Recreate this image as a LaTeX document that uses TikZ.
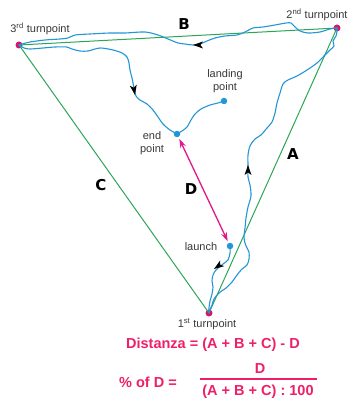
\documentclass[tikz,border=0pt]{standalone}
\usepackage{fontspec}
\setmainfont{Liberation Sans}
\newfontfamily\heavyfont{DejaVu Sans}
\usetikzlibrary{arrows.meta}
\definecolor{trackblue}{RGB}{35,150,215}
\definecolor{leggreen}{RGB}{45,165,85}
\definecolor{tpmag}{RGB}{215,20,115}
\definecolor{dmag}{RGB}{225,25,135}
\definecolor{formpink}{RGB}{240,30,105}
\definecolor{labgrey}{RGB}{55,55,55}
\newcommand\flyarrow[3]{\fill[black, shift={(#1,#2)}, rotate=#3] (0,0) -- (-10,3.5) -- (-7.5,0) -- (-10,-3.5) -- cycle;}
\begin{document}
\begin{tikzpicture}[x=1pt,y=-1pt,
  tp/.style={circle, fill=tpmag, inner sep=0pt, minimum size=7pt},
  bdot/.style={circle, fill=trackblue, inner sep=0pt, minimum size=6.5pt},
  leg/.style={draw=leggreen, line width=1pt},
  track/.style={draw=trackblue, line width=1.1pt, line join=round, line cap=round},
  lab/.style={font=\fontsize{11}{13}\selectfont, text=labgrey, inner sep=0pt, align=center},
  leglab/.style={font=\heavyfont\bfseries\fontsize{15}{15}\selectfont, text=black, inner sep=0pt},
  form/.style={font=\bfseries\fontsize{14.5}{16}\selectfont, text=formpink, inner sep=0pt}
]
\useasboundingbox (0,0) rectangle (347,403);

% turnpoints and points
\node[tp] (tp1) at (209,313) {};
\node[tp] (tp2) at (337,28) {};
\node[tp] (tp3) at (19,45) {};

% legs
\draw[leg] (tp1.center) -- (tp2.center) -- (tp3.center) -- cycle;

% track
\draw[track] plot[smooth, tension=0.5] coordinates {
 (230,246) (230,253) (228,260) (223,264) (216,270) (213,275) (212,281) (213,287) (212,294) (210,301) (209,308) (209,312)};
\draw[track] plot[smooth, tension=0.5] coordinates {
 (209,312) (212,305) (214,299) (219,293) (226,288) (232,282) (237,275) (242,269) (247,265) (249,259) (249,252) (246,246) (244,238) (245,228) (246,218) (248,207) (251,196) (250,185) (248,177) (248,165) (248,155) (250,146) (255,139) (261,135) (267,128) (272,122) (275,113) (277,103) (280,93) (283,84) (288,80) (297,76) (307,70) (317,63) (324,56) (330,50) (334,46) (333,41) (336,36) (337,31) (337,28)};
\draw[track] plot[smooth, tension=0.5] coordinates {
 (337,28) (330,29) (320,32) (308,33) (300,31) (295,27) (291,23) (286,23) (275,25) (263,27) (253,28) (245,32) (237,35) (225,36) (215,38) (207,41) (200,44) (193,45) (185,44) (178,43) (168,39) (158,35) (145,32) (125,33) (110,33) (90,34) (75,35) (68,38) (60,39) (45,40) (30,42) (22,44) (19,45)};
\draw[track] plot[smooth, tension=0.5] coordinates {
 (19,45) (24,48) (30,49) (43,48) (55,47) (67,47) (72,49) (80,51) (88,51) (100,48) (113,50) (122,53) (127,57) (129,63) (130,70) (132,78) (134,88) (136,96) (140,100) (147,104) (153,110) (158,117) (163,124) (170,130) (177,134)};

\node[bdot] (endp) at (177,134) {};
\node[bdot] (land) at (224,101) {};
\node[bdot] (launch) at (230,246) {};

\draw[track] plot[smooth, tension=0.5] coordinates {
 (177,134) (182,131) (187,127) (191,120) (195,114) (201,109) (210,105) (218,103) (224,101)};

% direction arrows
\flyarrow{214}{269}{-145}
\flyarrow{248}{165}{90}
\flyarrow{193}{45}{180}
\flyarrow{135}{95}{-80}

% D distance
\draw[dmag, line width=1.3pt, {Stealth[length=9pt,width=6pt]}-{Stealth[length=9pt,width=6pt]}, shorten <=2pt, shorten >=2pt] (endp) -- (launch);

% labels
\node[lab] at (40,29) {3\textsuperscript{rd} turnpoint};
\node[lab] at (317,15) {2\textsuperscript{nd} turnpoint};
\node[lab] at (207,324) {1\textsuperscript{st} turnpoint};
\node[lab] at (225,81) {landing\\point};
\node[lab] at (152,143) {end\\point};
\node[lab] at (201,247) {launch};

\node[leglab] at (184,24) {B};
\node[leglab] at (293,154) {A};
\node[leglab] at (101,185) {C};
\node[leglab] at (191,189) {D};

% formulas
\node[form] (f1) at (213,345) {Distanza = (A + B + C) - D};
\node[form] (f2) at (148,382) {\% of D =};
\node[form] (num) at (260,369) {D};
\node[form] (den) at (258,392) {(A + B + C) : 100};
\draw[formpink, line width=1.2pt] (200,379) coordinate (barl) -- (317,379) coordinate (barr);
\end{tikzpicture}
\end{document}
